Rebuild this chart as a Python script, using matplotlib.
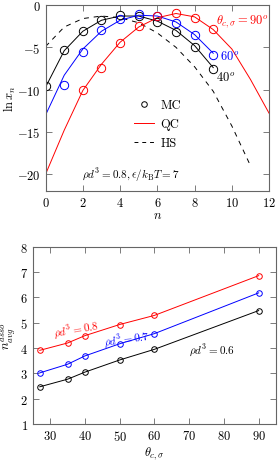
import matplotlib
matplotlib.use('Agg')
import matplotlib.pyplot as plt
import numpy as np

plt.rcParams['font.family'] = 'serif'
plt.rcParams['font.serif'] = ['cmr10']
plt.rcParams['mathtext.fontset'] = 'cm'
plt.rcParams['axes.formatter.use_mathtext'] = True
plt.rcParams['axes.unicode_minus'] = True
plt.rcParams['font.size'] = 9

# top panel: ln x_n vs n
n_mc40 = [0, 1, 2, 3, 4, 5, 6, 7, 8, 9]
mc40 = [-9.6, -5.35, -3.05, -1.8, -1.2, -1.25, -1.95, -3.15, -4.95, -7.6]
qc40 = [-9.7, -5.4, -3.1, -1.8, -1.3, -1.3, -1.9, -3.0, -4.8, -7.4]

n_mc60 = [1, 2, 3, 4, 5, 6, 7, 8, 9]
mc60 = [-9.4, -5.55, -3.0, -1.65, -1.1, -1.25, -2.15, -3.6, -5.85]
n_qc60 = [0, 1, 2, 3, 4, 5, 6, 7, 8, 9]
qc60 = [-13.0, -8.3, -5.2, -3.1, -1.8, -1.2, -1.3, -2.0, -3.5, -5.7]

n_mc90 = [2, 3, 4, 5, 6, 7, 8, 9]
mc90 = [-10.1, -7.4, -4.45, -2.5, -1.3, -1.0, -1.5, -2.85]
n_qc90 = [0, 1, 2, 3, 4, 5, 6, 7, 8, 9, 10, 11, 12]
qc90 = [-20.0, -14.8, -10.1, -7.0, -4.4, -2.6, -1.5, -1.0, -1.4, -2.9, -5.2, -8.8, -12.8]

n_hs = [0, 1, 2, 3, 4, 5, 6, 7, 8, 9, 10, 11]
hs = [-4.9, -2.6, -1.6, -1.3, -1.5, -2.1, -3.3, -5.0, -7.3, -10.2, -14.3, -19.0]

# bottom panel: n_avg^asso vs theta
theta = [27, 35, 40, 50, 60, 90]
rho08 = [3.91, 4.2, 4.49, 4.93, 5.29, 6.86]
rho07 = [3.02, 3.36, 3.69, 4.17, 4.57, 6.18]
rho06 = [2.47, 2.77, 3.05, 3.53, 3.95, 5.48]

fig = plt.figure(figsize=(2.78, 4.64), dpi=100)
ax1 = fig.add_axes([0.164, 0.586, 0.804, 0.401])
ax2 = fig.add_axes([0.118, 0.084, 0.875, 0.382])

lw = 0.7
ax1.plot(n_hs, hs, color='black', ls=(0, (5, 5)), lw=lw)
ax1.plot(n_mc40, qc40, color='black', lw=lw)
ax1.plot(n_qc60, qc60, color='blue', lw=lw)
ax1.plot(n_qc90, qc90, color='red', lw=lw)
ax1.plot(n_mc40, mc40, 'o', mfc='none', mec='black', ms=6, mew=0.7)
ax1.plot(n_mc60, mc60, 'o', mfc='none', mec='blue', ms=6, mew=0.7)
ax1.plot(n_mc90, mc90, 'o', mfc='none', mec='red', ms=6, mew=0.7)

# legend handles
h1, = ax1.plot([], [], 'o', mfc='none', mec='black', ms=4, mew=0.7)
h2, = ax1.plot([], [], color='red', lw=lw)
h3, = ax1.plot([], [], color='black', ls=(0, (4, 4)), lw=lw)
ax1.legend([h1, h2, h3], ['MC', 'QC', 'HS'], frameon=False, loc='center',
           bbox_to_anchor=(0.5, 0.36), handlelength=1.6, handletextpad=0.5,
           labelspacing=0.55)

ax1.text(9.15, -1.8, r'$\theta_{c,\sigma}=90^o$', color='red', va='center')
ax1.text(9.35, -5.95, r'$60^o$', color='blue', va='center')
ax1.text(9.15, -8.5, r'$40^o$', color='black', va='center')
ax1.text(0.38, 0.09, r'$\rho d^3=0.8, \epsilon/k_{\rm B}T=7$', transform=ax1.transAxes,
         ha='center', va='center', fontsize=8)

ax1.set_xlim(0, 12)
ax1.set_ylim(-22, 0)
ax1.set_xticks([0, 2, 4, 6, 8, 10, 12])
ax1.set_yticks([0, -5, -10, -15, -20])
ax1.set_xlabel(r'$n$', labelpad=0)
ax1.set_ylabel(r'$\ln x_n$')
ax1.yaxis.set_label_coords(-0.125, 0.5)

ax2.plot(theta, rho08, color='red', lw=lw, marker='o', mfc='none', ms=4, mew=0.7)
ax2.plot(theta, rho07, color='blue', lw=lw, marker='o', mfc='none', ms=4, mew=0.7)
ax2.plot(theta, rho06, color='black', lw=lw, marker='o', mfc='none', ms=4, mew=0.7)
ax2.text(37.5, 4.78, r'$\rho d^3=0.8$', color='red', ha='center', va='center', rotation=10, fontsize=8)
ax2.text(52, 4.42, r'$\rho d^3=0.7$', color='blue', ha='center', va='center', rotation=8, fontsize=8)
ax2.text(76.5, 3.98, r'$\rho d^3=0.6$', color='black', ha='center', va='center', fontsize=8)

ax2.set_xlim(25, 95)
ax2.set_ylim(1, 8)
ax2.set_xticks([30, 40, 50, 60, 70, 80, 90])
ax2.set_yticks([1, 2, 3, 4, 5, 6, 7, 8])
ax2.set_xlabel(r'$\theta_{c,\sigma}$', labelpad=1)
ax2.set_ylabel(r'$n_{avg}^{asso}$')
ax2.yaxis.set_label_coords(-0.062, 0.5)

for ax in (ax1, ax2):
    ax.tick_params(direction='in', top=True, right=True, length=4, width=0.6, color='0.4')
    for s in ax.spines.values():
        s.set_color('0.4')
        s.set_linewidth(0.8)

fig.savefig('out.png', dpi=100)
